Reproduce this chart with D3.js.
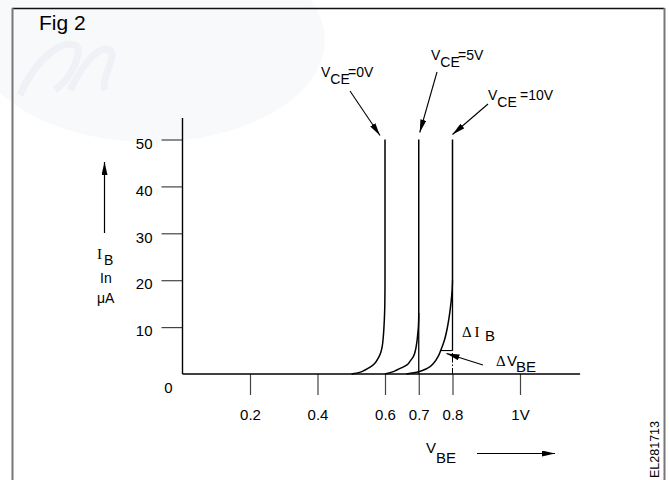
<!DOCTYPE html>
<html>
<head>
<meta charset="utf-8">
<title>Fig 2</title>
<script src="https://d3js.org/d3.v7.min.js"></script>
<style>
  body { margin: 0; background: #fff; }
  svg text { font-family: "Liberation Sans", Arial, sans-serif; fill: #000; }
  .serif { font-family: "Liberation Serif", "Times New Roman", serif; }
  .tick line { stroke: #444; stroke-width: 1.2px; }
  .tick text { font-size: 15px; }
</style>
</head>
<body>
<svg id="chart"></svg>
<script>
// tick values and labels
var vbeTicks = [0.2, 0.4, 0.6, 0.7, 0.8, 1.0];
var vbeLabels = ["0.2", "0.4", "0.6", "0.7", "0.8", "1V"];
var ibTicks = [10, 20, 30, 40, 50];

// curves: [V_BE (V), I_B (uA)]
var curve0V = [[0.501, 0], [0.525, 0.35], [0.541, 0.85], [0.557, 1.5], [0.570, 2.3], [0.580, 3.4],
  [0.587, 4.5], [0.592, 6.0], [0.595, 8.0], [0.598, 11.5], [0.5995, 15], [0.6, 20], [0.6, 50]];
var curve5V = [[0.600, 0], [0.620, 0.4], [0.635, 0.85], [0.650, 1.35], [0.664, 1.9], [0.675, 2.8],
  [0.684, 3.7], [0.690, 5.0], [0.694, 6.6], [0.697, 8.5], [0.699, 10.1], [0.700, 12.5], [0.700, 50]];
var curve10V = [[0.663, 0], [0.700, 0.5], [0.725, 1.2], [0.745, 2.4], [0.758, 3.8], [0.765, 5.0],
  [0.776, 7.2], [0.784, 9.6], [0.791, 12.6], [0.796, 15.5], [0.799, 18.0], [0.8, 20], [0.8, 50]];
var curveNames = ["0V", "5V", "10V"];

var W = 669, H = 480;
var svg = d3.select("#chart").attr("width", W).attr("height", H);

// defs: arrowhead
svg.append("defs").append("marker")
  .attr("id", "arr")
  .attr("markerUnits", "userSpaceOnUse")
  .attr("markerWidth", 14).attr("markerHeight", 6)
  .attr("refX", 13).attr("refY", 3)
  .attr("orient", "auto")
  .append("path").attr("d", "M0,0 L13,3 L0,6 Z").attr("fill", "#000");

// faint watermark in the corner
svg.append("ellipse").attr("cx", 150).attr("cy", 40).attr("rx", 175).attr("ry", 102)
  .attr("fill", "#f8f9fb");
svg.append("path")
  .attr("d", "M20,95 C35,60 60,40 75,45 C85,50 70,80 55,90 M70,90 C85,60 100,45 110,50 C118,55 100,80 105,90")
  .attr("fill", "none").attr("stroke", "#eff1f6").attr("stroke-width", 7);

// frame
svg.append("line").attr("x1", 12).attr("x2", 664.5).attr("y1", 8.5).attr("y2", 8.5)
  .attr("stroke", "#111").attr("stroke-width", 1.3);
svg.append("line").attr("x1", 12.5).attr("x2", 12.5).attr("y1", 8).attr("y2", H)
  .attr("stroke", "#777").attr("stroke-width", 2);
svg.append("line").attr("x1", 664.5).attr("x2", 664.5).attr("y1", 8).attr("y2", H)
  .attr("stroke", "#777").attr("stroke-width", 2);

svg.append("text").attr("x", 39).attr("y", 30).style("font-size", "21px").text("Fig 2");

// scales
var x = d3.scaleLinear().domain([0, 1]).range([182.5, 520]);
var y = d3.scaleLinear().domain([0, 50]).range([374, 139.5]);

// x axis
var gx = svg.append("g").attr("transform", "translate(0," + y(0) + ")")
  .call(d3.axisBottom(x).tickValues(vbeTicks).tickSize(21).tickPadding(14)
    .tickFormat(function(d, i) { return vbeLabels[i]; }));
gx.select(".domain").remove();
gx.selectAll("text").attr("font-family", null).attr("font-size", null);

// y axis
var gy = svg.append("g").attr("transform", "translate(" + x(0) + ",0)")
  .call(d3.axisLeft(y).tickValues(ibTicks).tickSize(21).tickPadding(9));
gy.select(".domain").remove();
gy.selectAll("text").attr("font-family", null).attr("font-size", null).attr("dy", "0.58em");

// axis lines
svg.append("line").attr("x1", x(0)).attr("x2", x(0)).attr("y1", y(0)).attr("y2", y(54.6))
  .attr("stroke", "#000").attr("stroke-width", 1.4);
svg.append("line").attr("x1", x(0)).attr("x2", x(1.178)).attr("y1", y(0)).attr("y2", y(0))
  .attr("stroke", "#000").attr("stroke-width", 1.4);

svg.append("text").attr("x", x(0) - 14).attr("y", y(0) + 19).attr("text-anchor", "middle")
  .style("font-size", "15px").text("0");

// curves
var line = d3.line()
  .x(function(d) { return x(d[0]); })
  .y(function(d) { return y(d[1]); })
  .curve(d3.curveMonotoneY);

[curve0V, curve5V, curve10V].forEach(function(c) {
  svg.append("path").datum(c.slice().reverse())
    .attr("d", line).attr("fill", "none").attr("stroke", "#000").attr("stroke-width", 1.5);
});

// solid line at 0.7 under the 5V bend
svg.append("line").attr("x1", x(0.7)).attr("x2", x(0.7)).attr("y1", y(0)).attr("y2", y(13))
  .attr("stroke", "#000").attr("stroke-width", 1.3);

// delta construction on the 10V curve
var dI = 5.0, dV0 = 0.765;
svg.append("line").attr("x1", x(0.8)).attr("x2", x(0.8)).attr("y1", y(dI)).attr("y2", y(20))
  .attr("stroke", "#000").attr("stroke-width", 1.3);
svg.append("line").attr("x1", x(0.8)).attr("x2", x(0.8)).attr("y1", y(0)).attr("y2", y(dI))
  .attr("stroke", "#000").attr("stroke-width", 1).attr("stroke-dasharray", "6,2,1.5,2");
svg.append("line").attr("x1", x(dV0)).attr("x2", x(0.8)).attr("y1", y(dI)).attr("y2", y(dI))
  .attr("stroke", "#000").attr("stroke-width", 1.1);

var dIB = svg.append("text").attr("y", 337).style("font-size", "15px");
dIB.append("tspan").attr("class", "serif").attr("x", 462).text("\u0394 I");
dIB.append("tspan").attr("x", 485).attr("dy", 4).text("B");

svg.append("line").attr("x1", 483).attr("y1", 365).attr("x2", x(0.8) - 6).attr("y2", y(dI) + 3)
  .attr("stroke", "#000").attr("stroke-width", 1.1).attr("marker-end", "url(#arr)");
var dVB = svg.append("text").attr("y", 366).style("font-size", "15px");
dVB.append("tspan").attr("class", "serif").attr("x", 496).text("\u0394");
dVB.append("tspan").attr("x", 507).text("V");
dVB.append("tspan").attr("x", 516).attr("dy", 6).text("BE");

// V_CE labels with arrows
var labelPos = [
  { tx: 321, ty: 77, from: [350, 91], to: [x(0.6) - 5, y(50) - 4], gap: 27 },
  { tx: 431, ty: 60, from: [437, 72], to: [x(0.7) + 1, y(50) - 7], gap: 27 },
  { tx: 488, ty: 100, from: [488, 104], to: [x(0.8), y(50) - 5], gap: 32 }
];
curveNames.forEach(function(n, i) {
  var p = labelPos[i];
  var t = svg.append("text").attr("x", p.tx).attr("y", p.ty).style("font-size", "14px");
  t.append("tspan").text("V");
  t.append("tspan").attr("dy", 7).text("CE");
  t.append("tspan").attr("x", p.tx + p.gap).attr("dy", -7).text("=" + n);
  svg.append("line").attr("x1", p.from[0]).attr("y1", p.from[1]).attr("x2", p.to[0]).attr("y2", p.to[1])
    .attr("stroke", "#000").attr("stroke-width", 1.1).attr("marker-end", "url(#arr)");
});

// y axis title
svg.append("line").attr("x1", 104.5).attr("x2", 104.5).attr("y1", 233).attr("y2", 162)
  .attr("stroke", "#000").attr("stroke-width", 1.2).attr("marker-end", "url(#arr)");
var ib = svg.append("text").attr("y", 259).style("font-size", "15px");
ib.append("tspan").attr("class", "serif").attr("x", 97).text("I");
ib.append("tspan").attr("x", 104).attr("dy", 6).style("font-size", "14px").text("B");
svg.append("text").attr("x", 100).attr("y", 283).style("font-size", "14px").text("In");
svg.append("text").attr("x", 97).attr("y", 303).style("font-size", "14px").text("\u03BCA");

// x axis title
var vbe = svg.append("text").attr("y", 453).style("font-size", "15px");
vbe.append("tspan").attr("x", 426).text("V");
vbe.append("tspan").attr("x", 436).attr("dy", 10).text("BE");
svg.append("line").attr("x1", 477).attr("x2", 555).attr("y1", 453.5).attr("y2", 453.5)
  .attr("stroke", "#000").attr("stroke-width", 1.2).attr("marker-end", "url(#arr)");

// drawing number
svg.append("text").attr("transform", "translate(659,478) rotate(-90)")
  .style("font-size", "12.5px").text("EL281713");
</script>
</body>
</html>
